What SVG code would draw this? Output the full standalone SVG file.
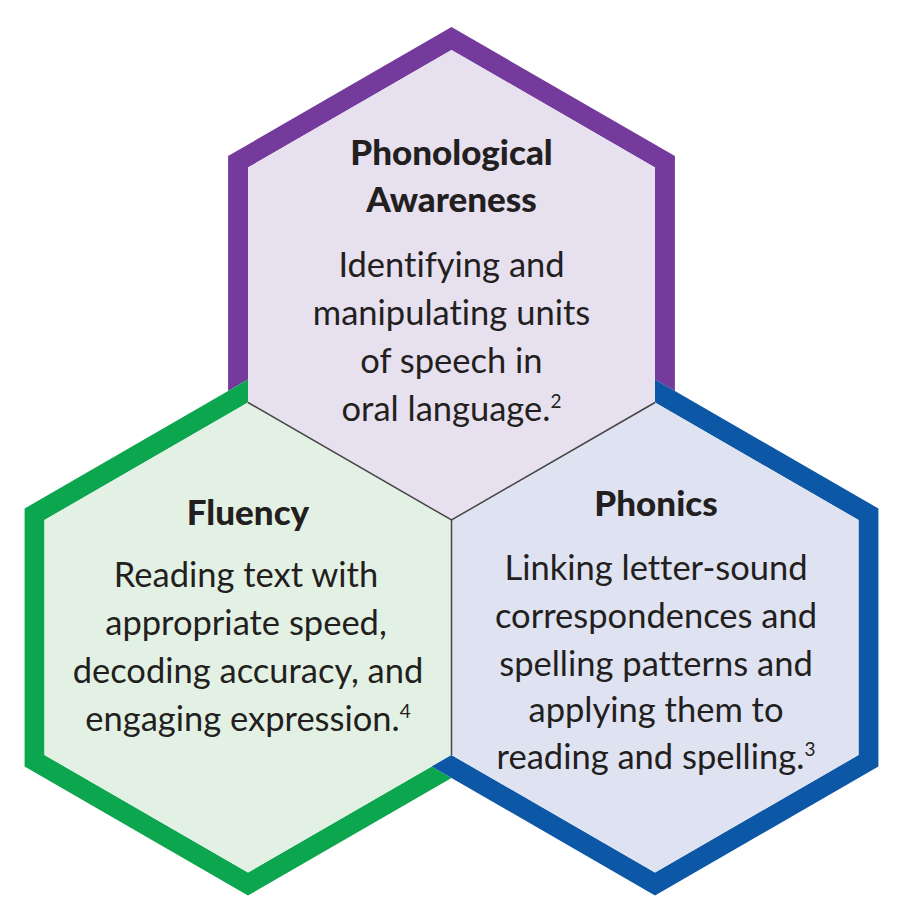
<svg xmlns="http://www.w3.org/2000/svg" width="918" height="910" viewBox="0 0 918 910">
<style>
.title{font-family:Lato,"Liberation Sans",sans-serif;font-weight:900;font-size:35px;fill:#231f20;text-anchor:middle}
.body{font-family:Lato,"Liberation Sans",sans-serif;font-weight:400;font-size:34.5px;fill:#231f20;text-anchor:middle;font-variant-ligatures:none}
.sup{font-size:19px}
.div{fill:none;stroke:#454545;stroke-width:1.5}
</style>
<rect width="918" height="910" fill="#ffffff"/>
<g id="node-phonological">
<polygon fill="#743a9c" points="228.1,391 228.1,156 451.5,27 674.9,156 674.9,391 655,379.5 655,167.5 451.5,50 248,167.5 248,379.5"/>
<polygon fill="#e6e0ef" points="451.5,50 655,167.5 655,402.5 451.5,520 248,402.5 248,167.5"/>
<text class="title" x="451.5" y="165">Phonological</text>
<text class="title" x="451.5" y="212">Awareness</text>
<text class="body" x="451.5" y="277">Identifying and</text>
<text class="body" x="451.5" y="325">manipulating units</text>
<text class="body" x="451.5" y="373">of speech in</text>
<text class="body" x="451.5" y="421">oral language.<tspan class="sup" dy="-13">2</tspan></text>
</g>
<g id="node-fluency">
<polygon fill="#0ca64f" points="248,379.5 248,402.5 44.5,520 44.5,755 248,872.5 431.6,766.5 451.5,778 248,895.5 24.6,766.5 24.6,508.5"/>
<polygon fill="#e3f1e5" points="248,402.5 451.5,520 451.5,755 248,872.5 44.5,755 44.5,520"/>
<text class="title" x="248" y="525">Fluency</text>
<text class="body" x="246" y="587">Reading text with</text>
<text class="body" x="246" y="635">appropriate speed,</text>
<text class="body" x="248" y="683">decoding accuracy, and</text>
<text class="body" x="248" y="731">engaging expression.<tspan class="sup" dy="-13">4</tspan></text>
</g>
<g id="node-phonics">
<polygon fill="#0c57a6" points="655,379.5 878.4,508.5 878.4,766.5 655,895.5 431.6,766.5 451.5,755 655,872.5 858.5,755 858.5,520 655,402.5"/>
<polygon fill="#dee2f1" points="655,402.5 858.5,520 858.5,755 655,872.5 451.5,755 451.5,520"/>
<text class="title" x="656" y="516">Phonics</text>
<text class="body" x="656" y="580">Linking letter-sound</text>
<text class="body" x="656" y="628">correspondences and</text>
<text class="body" x="656" y="676">spelling patterns and</text>
<text class="body" x="656" y="722">applying them to</text>
<text class="body" x="656" y="769">reading and spelling.<tspan class="sup" dy="-13">3</tspan></text>
</g>
<g id="dividers">
<polyline class="div" points="248,402.5 451.5,520 655,402.5"/>
<line class="div" x1="451.5" y1="520" x2="451.5" y2="755"/>
</g>
</svg>
